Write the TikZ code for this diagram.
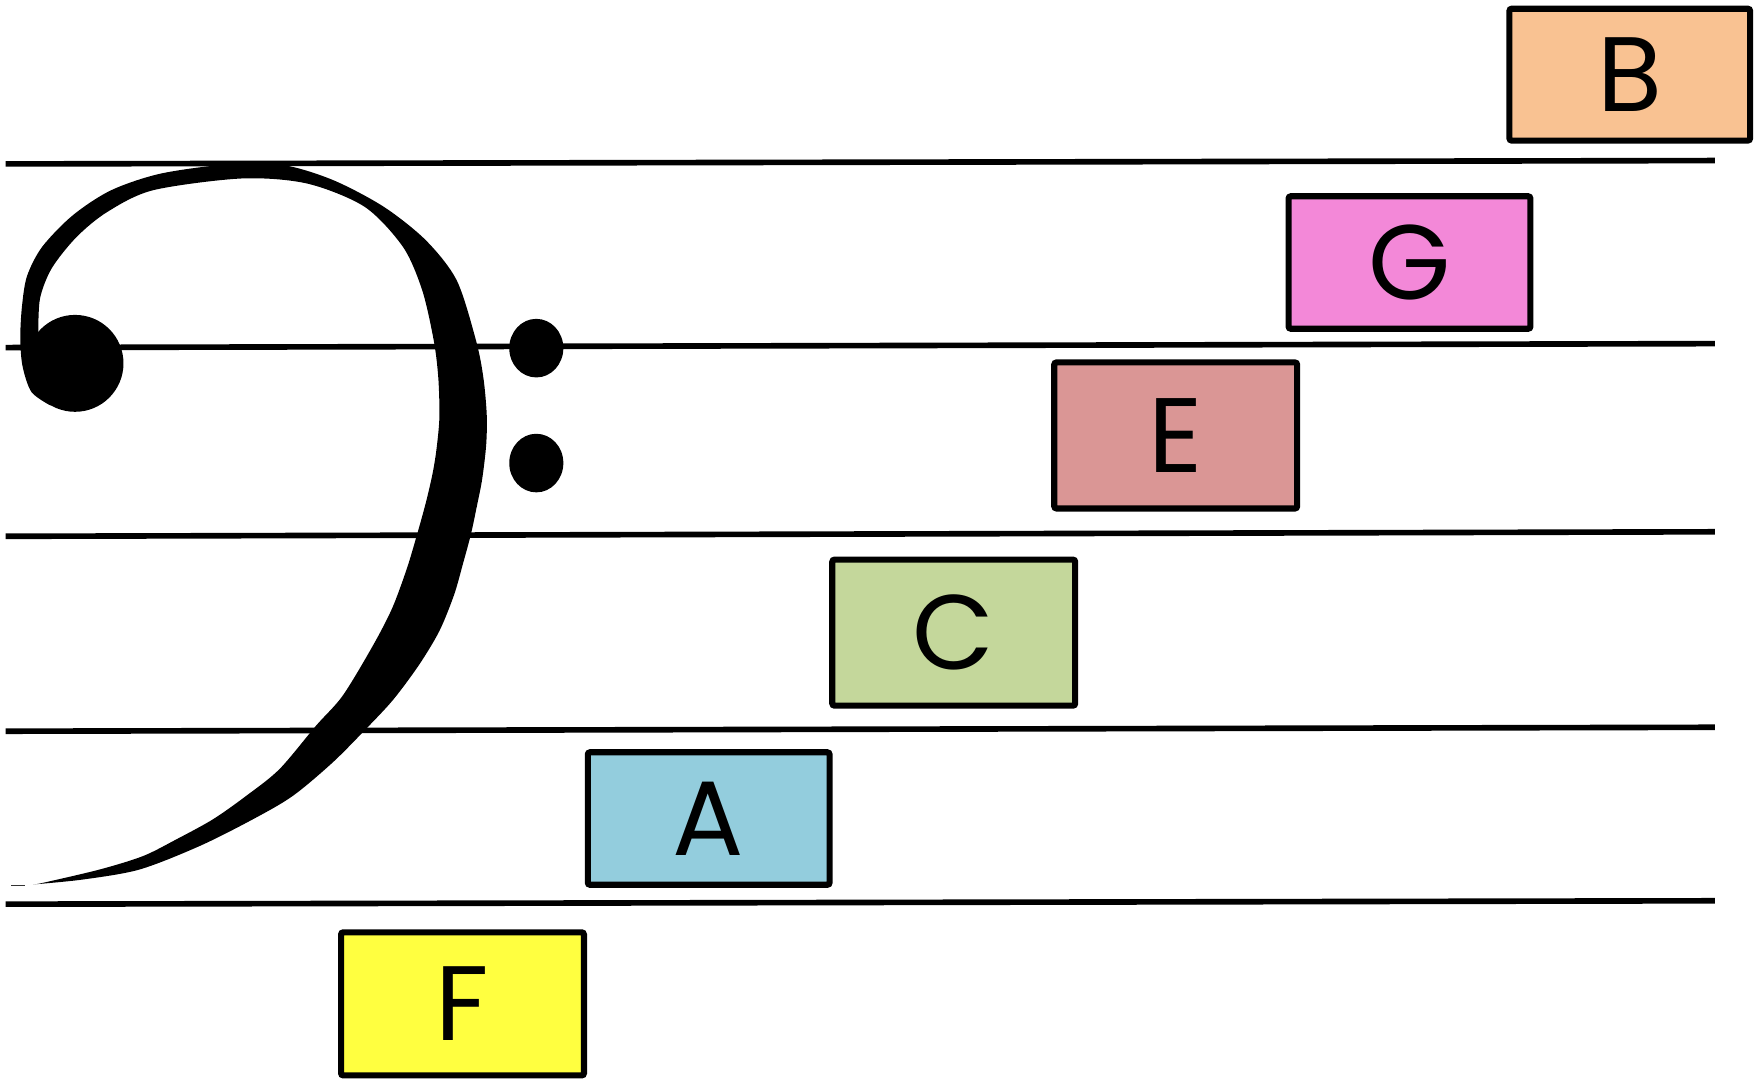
\documentclass[tikz,border=0pt]{standalone}
\usepackage{fontspec}
\setmainfont{Poppins}
\definecolor{cB}{HTML}{F9C292}
\definecolor{cG}{HTML}{F388D8}
\definecolor{cE}{HTML}{DA9695}
\definecolor{cC}{HTML}{C4D79B}
\definecolor{cA}{HTML}{93CDDD}
\definecolor{cF}{HTML}{FFFF40}
\tikzset{
  staffline/.style={line width=5pt, line cap=butt},
  notebox/.style={draw=black, line width=5.4pt, rounded corners=2pt,
    inner sep=0pt, font=\fontsize{94}{94}\selectfont},
  clefink/.style={fill=black, draw=none}
}
\begin{document}
\begin{tikzpicture}[x=1pt,y=-1pt]
\useasboundingbox[fill=white] (0,0) rectangle (1563,957.7);
% staff lines
\coordinate (l1a) at (5,145.5);   \coordinate (l1b) at (1522,142.5);
\coordinate (l2a) at (5,308.5);   \coordinate (l2b) at (1522,305);
\coordinate (l3a) at (5,476);     \coordinate (l3b) at (1522,472);
\coordinate (l4a) at (5,649);     \coordinate (l4b) at (1522,645.5);
\coordinate (l5a) at (5,802.5);   \coordinate (l5b) at (1522,799.5);
\draw[staffline] (l1a) -- (l1b);
\draw[staffline] (l2a) -- (l2b);
\draw[staffline] (l3a) -- (l3b);
\draw[staffline] (l4a) -- (l4b);
\draw[staffline] (l5a) -- (l5b);
% bass clef body
\fill[clefink] plot[smooth, tension=0.5] coordinates {
 (45,360) (28,348) (20,325) (18,300) (19.5,272) (24,245) (37.5,219) (64.7,191)
 (98.8,168.8) (143,154) (204,145.7) (252,146.6) (296,160) (340.7,183.6)
 (378,213.3) (405.4,248.9) (422.5,302.3) (429,335) (432,368) (431.5,395)
 (428,425) (423.5,448) (418,474) (411,500) (403,528) (390,560) (372,590)
 (349,621) (324.8,647) (295.3,676.7) (259.9,706.4) (224.4,727.2)
 (177.2,750.9) (124,771.7) (73.8,780.6) (29.5,785)}
 -- plot[smooth, tension=0.5] coordinates {
 (29.5,785) (38.4,783.5) (88.6,771.7) (127,759.8) (156.5,745) (189,727.2)
 (218.5,706.4) (248,682.7) (280.5,644.1) (304.2,617.4) (331,573)
 (348,540) (361,505) (370,475) (378,446) (384,420) (387.5,398) (390,370)
 (389,335) (385,302.3) (374.8,257.8) (357.7,219.2) (323.7,183.6)
 (272.6,162.9) (214.6,158.4) (136,168.8) (95.4,188) (68,210.3) (46,238)
 (35.5,265) (34,297)} -- cycle;
% big dot of the clef
\fill[clefink] (66.6,322.5) circle[radius=43];
% the two dots
\fill[clefink] (476,309) ellipse[x radius=24, y radius=26];
\fill[clefink] (476,411) ellipse[x radius=24, y radius=26];
% small stray dash at the tail
\coordinate (d1) at (10,786); \coordinate (d2) at (22,786);
\draw[line width=1.2pt, black!80] (d1) -- (d2);
% note boxes
\node[notebox, fill=cB, minimum width=213.6pt, minimum height=117pt] (B) at (1446.5,66.25) {B};
\node[notebox, fill=cG, minimum width=214.6pt, minimum height=117.6pt] (G) at (1251,233) {G};
\node[notebox, fill=cE, minimum width=215.6pt, minimum height=129.6pt] (E) at (1043.5,386.5) {E};
\node[notebox, fill=cC, minimum width=215.6pt, minimum height=129.6pt] (C) at (846.5,561.5) {C};
\node[notebox, fill=cA, minimum width=214.6pt, minimum height=117.6pt] (A) at (629,726.5) {A};
\node[notebox, fill=cF, minimum width=215.6pt, minimum height=127pt] (F) at (410.5,891) {F};
\end{tikzpicture}
\end{document}
